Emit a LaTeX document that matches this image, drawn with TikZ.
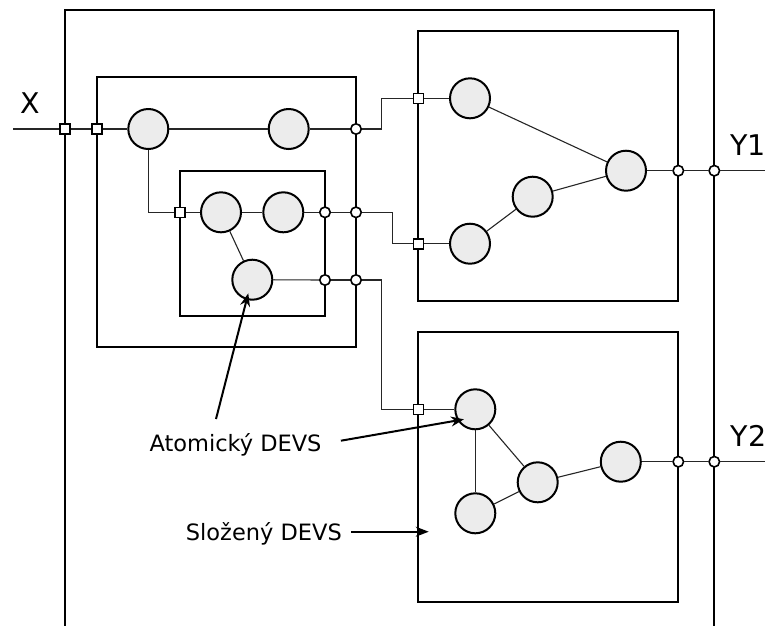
\documentclass[tikz,border=0pt]{standalone}
\usepackage{fontspec}
\setmainfont{DejaVu Sans}
\usetikzlibrary{arrows.meta}
\definecolor{atomfill}{HTML}{ECECEC}
\begin{document}
\begin{tikzpicture}[x=1pt,y=-1pt,
  atom/.style={circle,draw,line width=2pt,fill=atomfill,minimum size=40pt,inner sep=0pt},
  inport/.style={rectangle,draw,line width=1.6pt,fill=white,minimum size=10pt,inner sep=0pt},
  outport/.style={circle,draw,line width=1.6pt,fill=white,minimum size=10.5pt,inner sep=0pt},
  boxline/.style={draw,line width=2pt},
  link/.style={line width=1.1pt,black!85},
  arr/.style={line width=2pt,-{Stealth[length=13pt,width=10pt]}},
  lbl/.style={font=\fontsize{22.5}{27}\selectfont,inner sep=0pt},
  biglbl/.style={font=\fontsize{28.5}{32}\selectfont,inner sep=0pt}]
\useasboundingbox (0,0) rectangle (765,625);
% outer box
\draw[boxline] (65,626) -- (65,10) -- (714.3,10) -- (714.3,626);
% composite boxes
\node[boxline,minimum width=259.3pt,minimum height=270pt,inner sep=0pt] (A) at (226.35,212.3) {};
\node[boxline,minimum width=145pt,minimum height=145.3pt,inner sep=0pt] (B) at (252.5,243.35) {};
\node[boxline,minimum width=260pt,minimum height=270pt,inner sep=0pt] (C) at (548.3,165.7) {};
\node[boxline,minimum width=260pt,minimum height=270pt,inner sep=0pt] (D) at (548,466.7) {};
% input ports
\node[inport] (pX) at (65,129) {};
\node[inport] (pA) at (96.7,129) {};
\node[inport] (pB) at (180,212.3) {};
\node[inport] (pC1) at (418.3,98.3) {};
\node[inport] (pC2) at (418.3,243.7) {};
\node[inport] (pD) at (418.3,409.3) {};
% output ports
\node[outport] (oA1) at (356,129) {};
\node[outport] (oA2) at (356,212.3) {};
\node[outport] (oA3) at (356,280) {};
\node[outport] (oB1) at (325,212.3) {};
\node[outport] (oB2) at (325,280) {};
\node[outport] (oC) at (678.3,170.7) {};
\node[outport] (oY1) at (714.3,170.7) {};
\node[outport] (oD) at (678.3,461.7) {};
\node[outport] (oY2) at (714.3,461.7) {};
% atomic models
\node[atom] (c1) at (148.3,129) {};
\node[atom] (c2) at (288.7,129) {};
\node[atom] (c3) at (221,212.3) {};
\node[atom] (c4) at (283.3,212.3) {};
\node[atom] (c5) at (252.3,279.7) {};
\node[atom] (c6) at (470,98.3) {};
\node[atom] (c7) at (470,243.7) {};
\node[atom] (c8) at (532.7,196.7) {};
\node[atom] (c9) at (626,170.7) {};
\node[atom] (c10) at (475.3,409.3) {};
\node[atom] (c11) at (475.3,513.3) {};
\node[atom] (c12) at (537.7,482.3) {};
\node[atom] (c13) at (620.8,461.7) {};
% free ends and bends
\coordinate (xin) at (13,129);
\coordinate (y1out) at (765,170.7);
\coordinate (y2out) at (765,461.7);
\coordinate (k1) at (381.7,129);
\coordinate (k2) at (392.3,212.3);
\coordinate (k3) at (381.7,280);
% links
\draw[link] (xin) -- (pX);
\draw[link] (pX) -- (pA);
\draw[link] (pA) -- (c1);
\draw[link] (c1) -- (c2);
\draw[link] (c2) -- (oA1);
\draw[link] (c1) |- (pB);
\draw[link] (pB) -- (c3);
\draw[link] (c3) -- (c4);
\draw[link] (c3) -- (c5);
\draw[link] (c4) -- (oB1);
\draw[link] (oB1) -- (oA2);
\draw[link] (c5) -- (oB2);
\draw[link] (oB2) -- (oA3);
\draw[link] (oA1) -- (k1) |- (pC1);
\draw[link] (oA2) -- (k2) |- (pC2);
\draw[link] (oA3) -- (k3) |- (pD);
\draw[link] (pC1) -- (c6);
\draw[link] (pC2) -- (c7);
\draw[link] (c6) -- (c9);
\draw[link] (c7) -- (c8);
\draw[link] (c8) -- (c9);
\draw[link] (c9) -- (oC);
\draw[link] (oC) -- (oY1);
\draw[link] (oY1) -- (y1out);
\draw[link] (pD) -- (c10);
\draw[link] (c10) -- (c11);
\draw[link] (c10) -- (c12);
\draw[link] (c11) -- (c12);
\draw[link] (c12) -- (c13);
\draw[link] (c13) -- (oD);
\draw[link] (oD) -- (oY2);
\draw[link] (oY2) -- (y2out);
% labels
\node[biglbl,anchor=base west] (lx) at (20,113) {X};
\node[biglbl,anchor=base west] (ly1) at (730,155) {Y1};
\node[biglbl,anchor=base west] (ly2) at (730.5,446) {Y2};
\node[lbl,anchor=base west] (latom) at (149.3,451.7) {Atomický DEVS};
\node[lbl,anchor=base west] (lcomp) at (185.7,540) {Složený DEVS};
% arrows
\coordinate (a1s) at (216,419);
\coordinate (a1e) at (248.3,293.3);
\coordinate (a2s) at (340.9,440.7);
\coordinate (a2e) at (463.9,419.3);
\coordinate (a3s) at (351,531.7);
\coordinate (a3e) at (428.7,531.7);
\draw[arr] (a1s) -- (a1e);
\draw[arr] (a2s) -- (a2e);
\draw[arr] (a3s) -- (a3e);
\end{tikzpicture}
\end{document}
